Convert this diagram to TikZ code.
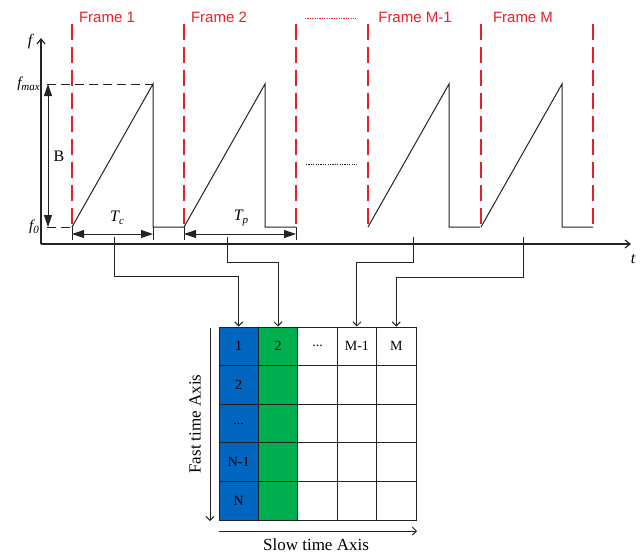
\documentclass[tikz,border=0pt]{standalone}
\usepackage{fontspec}
\setmainfont{Liberation Serif}
\newfontfamily\framefont{Liberation Sans}
\usetikzlibrary{arrows.meta,calc}
\definecolor{framered}{RGB}{228,32,42}
\definecolor{colblue}{RGB}{0,102,192}
\definecolor{colgreen}{RGB}{0,176,80}
\definecolor{ink}{RGB}{35,35,35}
\newcommand{\celldots}{.\kern0pt.\kern0pt.}

\begin{document}
\begin{tikzpicture}[x=1pt,y=-1pt,
  framelbl/.style={text=framered,font=\framefont\fontsize{15}{15}\selectfont,inner sep=0},
  framesep/.style={draw=framered,line width=1.1pt,dash pattern=on 16pt off 7pt},
  axisline/.style={draw=ink,line width=1.2pt,-{Straight Barb[length=5pt,width=8pt]}},
  chirp/.style={draw=ink,line width=1pt,line join=miter},
  levelline/.style={draw=ink,line width=1pt,dash pattern=on 9pt off 5pt},
  spanarrow/.style={draw=ink,line width=1pt,{Triangle[length=12pt,width=8pt]}-{Triangle[length=12pt,width=8pt]}},
  bar/.style={draw=ink,line width=1pt},
  conn/.style={draw=ink,line width=1pt,-{Straight Barb[length=4pt,width=8pt]}},
  lbl/.style={inner sep=0,font=\fontsize{16}{16}\selectfont},
  cell/.style={draw=ink,line width=0.9pt,minimum width=39.4pt,minimum height=38.6pt,inner sep=0,
               font=\fontsize{14}{14}\selectfont},
  dotsline/.style={line width=1pt,dash pattern=on 1.2pt off 1.2pt}
]
\useasboundingbox (0,0) rectangle (643,555);

% axes
\coordinate (origin) at (41,244);
\coordinate (ftop) at (41,38);
\coordinate (tend) at (631,244);
\draw[axisline] (origin) -- (ftop);
\draw[axisline] (origin) -- (tend);
\node[lbl,font=\fontsize{16}{16}\selectfont\itshape] (flabel) at (30,42) {f};
\node[lbl,font=\fontsize{16}{16}\selectfont\itshape] (tlabel) at (633,259) {t};
\node[lbl,anchor=east,font=\fontsize{15}{15}\selectfont\itshape] (fmax) at (40,84) {f\raisebox{-0.45ex}{\fontsize{11}{11}\selectfont max}};
\node[lbl,anchor=east,font=\fontsize{15}{15}\selectfont\itshape] (fzero) at (39,227) {f\raisebox{-0.45ex}{\fontsize{11}{11}\selectfont 0}};

% level markers and bandwidth
\coordinate (fmaxL) at (47,84);
\coordinate (fmaxR) at (153,84);
\coordinate (fzeroL) at (47,227);
\coordinate (fzeroR) at (72,227);
\draw[levelline] (fmaxL) -- (fmaxR);
\draw[levelline] (fzeroL) -- (fzeroR);
\draw[spanarrow] ($(fmaxL)+(1,0)$) -- ($(fzeroL)+(1,0)$);
\node[lbl] (Blabel) at (59,156) {B};

% frame separators
\foreach \x in {72,184,296,368,481,593}
  \draw[framesep] (\x,24) -- (\x,227);

% frame titles
\node[framelbl] (frame1) at (107,17) {Frame 1};
\node[framelbl] (frame2) at (219,17) {Frame 2};
\node[framelbl] (frameM1) at (415,17) {Frame M-1};
\node[framelbl] (frameM) at (523,17) {Frame M};
\draw[framered,dotsline] (305,18) -- (356,18);
\draw[ink,dotsline] (306,164) -- (357,164);

% chirps
\foreach \s in {72,184,368,481}
  \draw[chirp] (\s,227) -- (\s+81,84) -- (\s+81,227) -- (\s+112,227);

% chirp and period spans
\foreach \x in {72,153,184,296}
  \draw[bar] (\x,227) -- (\x,240);
\coordinate (tcA) at (72,234);
\coordinate (tcB) at (153,234);
\coordinate (tpA) at (184,234);
\coordinate (tpB) at (296,234);
\draw[spanarrow] (tcA) -- (tcB);
\draw[spanarrow] (tpA) -- (tpB);
\node[lbl,font=\fontsize{16}{16}\selectfont\itshape] (Tc) at (117,218) {T\raisebox{-0.45ex}{\fontsize{11}{11}\selectfont c}};
\node[lbl,font=\fontsize{16}{16}\selectfont\itshape] (Tp) at (241,218) {T\raisebox{-0.45ex}{\fontsize{11}{11}\selectfont p}};

% data matrix
\foreach \c/\fc/\t in {1/colblue/1,2/colgreen/2,3/white/\celldots,4/white/M-1,5/white/M}
  \node[cell,fill=\fc] (cell-1-\c) at ({219+(\c-0.5)*39.4},{327+0.5*38.6}) {\t};
\foreach \r/\t in {2/2,3/\celldots,4/N-1,5/N}
  \node[cell,fill=colblue] (cell-\r-1) at ({219+0.5*39.4},{327+(\r-0.5)*38.6}) {\t};
\foreach \r in {2,...,5}{
  \node[cell,fill=colgreen] (cell-\r-2) at ({219+1.5*39.4},{327+(\r-0.5)*38.6}) {};
  \foreach \c in {3,4,5}
    \node[cell,fill=white] (cell-\r-\c) at ({219+(\c-0.5)*39.4},{327+(\r-0.5)*38.6}) {};
}

% frame-to-column connectors
\coordinate (tcMid) at (114,237);
\coordinate (tpMid) at (227,237);
\coordinate (mOneTick) at (413,237);
\coordinate (mTick) at (523,237);
\draw[conn] (tcMid) -- ++(0,39) -| (cell-1-1.north);
\draw[conn] (tpMid) -- ++(0,25) -| (cell-1-2.north);
\draw[conn] (mOneTick) -- ++(0,25) -| (cell-1-4.north);
\draw[conn] (mTick) -- ++(0,40) -| (cell-1-5.north);

% matrix axes
\coordinate (fastA) at (210,328);
\coordinate (fastB) at (210,521);
\coordinate (slowA) at (219,531);
\coordinate (slowB) at (417,531);
\draw[conn] (fastA) -- (fastB);
\draw[conn] (slowA) -- (slowB);
\node[lbl,rotate=90,font=\fontsize{17}{17}\selectfont] (fastlbl) at (195,424) {Fast time Axis};
\node[lbl,font=\fontsize{17}{17}\selectfont] (slowlbl) at (316,545) {Slow time Axis};
\end{tikzpicture}
\end{document}
